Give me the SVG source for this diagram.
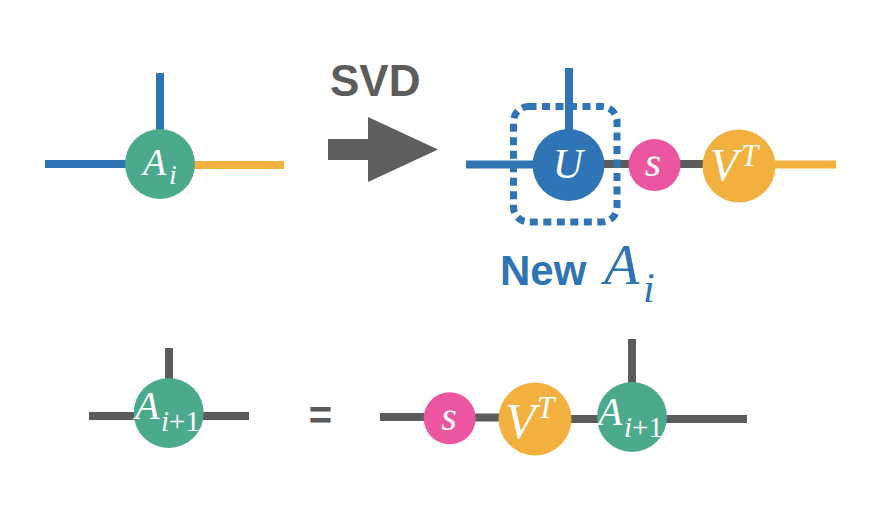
<svg xmlns="http://www.w3.org/2000/svg" width="892" height="506" viewBox="0 0 892 506">
<style>
.ln{stroke-width:8;fill:none}
.blue{stroke:#2f74b5}
.org{stroke:#f2b13f}
.gry{stroke:#5b5b5b}
.m{font-family:"Liberation Serif","DejaVu Serif",serif;font-style:italic;fill:#ffffff}
.up{font-style:normal}
.sans{font-family:"Liberation Sans",Arial,sans-serif;font-weight:bold}
</style>
<rect width="892" height="506" fill="#ffffff"/>
<g id="connectors">
  <line class="ln blue" x1="160" y1="73" x2="160" y2="140"/>
  <line class="ln blue" x1="45" y1="164" x2="130" y2="164"/>
  <line class="ln org" x1="190" y1="165" x2="284" y2="165"/>
  <line class="ln blue" x1="569" y1="68" x2="569" y2="140"/>
  <line class="ln blue" x1="466" y1="164.5" x2="540" y2="164.5"/>
  <line class="ln gry" x1="600" y1="164" x2="710" y2="164"/>
  <line class="ln org" x1="770" y1="164.5" x2="836" y2="164.5"/>
  <line class="ln gry" x1="169" y1="348" x2="169" y2="390"/>
  <line class="ln gry" x1="89" y1="416" x2="249" y2="416"/>
  <line class="ln gry" x1="380" y1="417" x2="430" y2="417"/>
  <line class="ln gry" x1="470" y1="417.5" x2="505" y2="417.5"/>
  <line class="ln gry" x1="565" y1="419" x2="605" y2="419"/>
  <line class="ln gry" x1="632" y1="339" x2="632" y2="390"/>
  <line class="ln gry" x1="660" y1="419" x2="747" y2="419"/>
</g>
<g id="svd-arrow">
  <text class="sans" x="330" y="96" font-size="44" fill="#5c5c5c">SVD</text>
  <polygon points="328,139 368,139 368,117 438,149.5 368,182 368,160 328,160" fill="#5e5e5e"/>
</g>
<g id="node-Ai">
  <circle cx="160" cy="164" r="35" fill="#4ba98c"/>
  <text class="m" x="143" y="175" font-size="38">A</text>
  <text class="m" x="169" y="184" font-size="28">i</text>
</g>
<g id="node-U">
  <circle cx="568.5" cy="165" r="36" fill="#2f74b5"/>
  <text class="m" x="568" y="178" font-size="42" text-anchor="middle">U</text>
</g>
<g id="node-s">
  <circle cx="654.5" cy="165" r="26" fill="#ec559f"/>
  <text class="m" x="653" y="176" font-size="42" text-anchor="middle">s</text>
</g>
<g id="node-VT">
  <circle cx="739" cy="166" r="36.5" fill="#f2b13f"/>
  <text class="m" x="710" y="181" font-size="46">V</text>
  <text class="m" x="741" y="166" font-size="31">T</text>
</g>
<g id="new-Ai">
  <rect x="513.5" y="106.5" width="103.5" height="115.5" rx="15" fill="none" stroke="#2f74b5" stroke-width="7" stroke-dasharray="8 5.5"/>
  <text class="sans" x="500" y="285" font-size="42" fill="#2f74b5">New</text>
  <text class="m" x="604" y="284" font-size="58" style="fill:#2f74b5">A</text>
  <text class="m" x="643" y="302" font-size="42" style="fill:#2f74b5">i</text>
</g>
<g id="node-Ai1-left">
  <circle cx="168.7" cy="413" r="35" fill="#4ba98c"/>
  <text class="m" x="135" y="419" font-size="40">A</text>
  <text class="m" x="161" y="431" font-size="29">i<tspan class="up">+1</tspan></text>
</g>
<text class="sans" x="320.5" y="429" font-size="40" fill="#5b5b5b" text-anchor="middle">=</text>
<g id="node-s2">
  <circle cx="449.7" cy="418.3" r="26" fill="#ec559f"/>
  <text class="m" x="449" y="430" font-size="40" text-anchor="middle">s</text>
</g>
<g id="node-VT2">
  <circle cx="535" cy="419" r="36.5" fill="#f2b13f"/>
  <text class="m" x="505" y="438" font-size="50">V</text>
  <text class="m" x="537" y="418" font-size="31">T</text>
</g>
<g id="node-Ai1-right">
  <circle cx="632" cy="417" r="35" fill="#4ba98c"/>
  <text class="m" x="598" y="425" font-size="40">A</text>
  <text class="m" x="624" y="437" font-size="29">i<tspan class="up">+1</tspan></text>
</g>
</svg>
